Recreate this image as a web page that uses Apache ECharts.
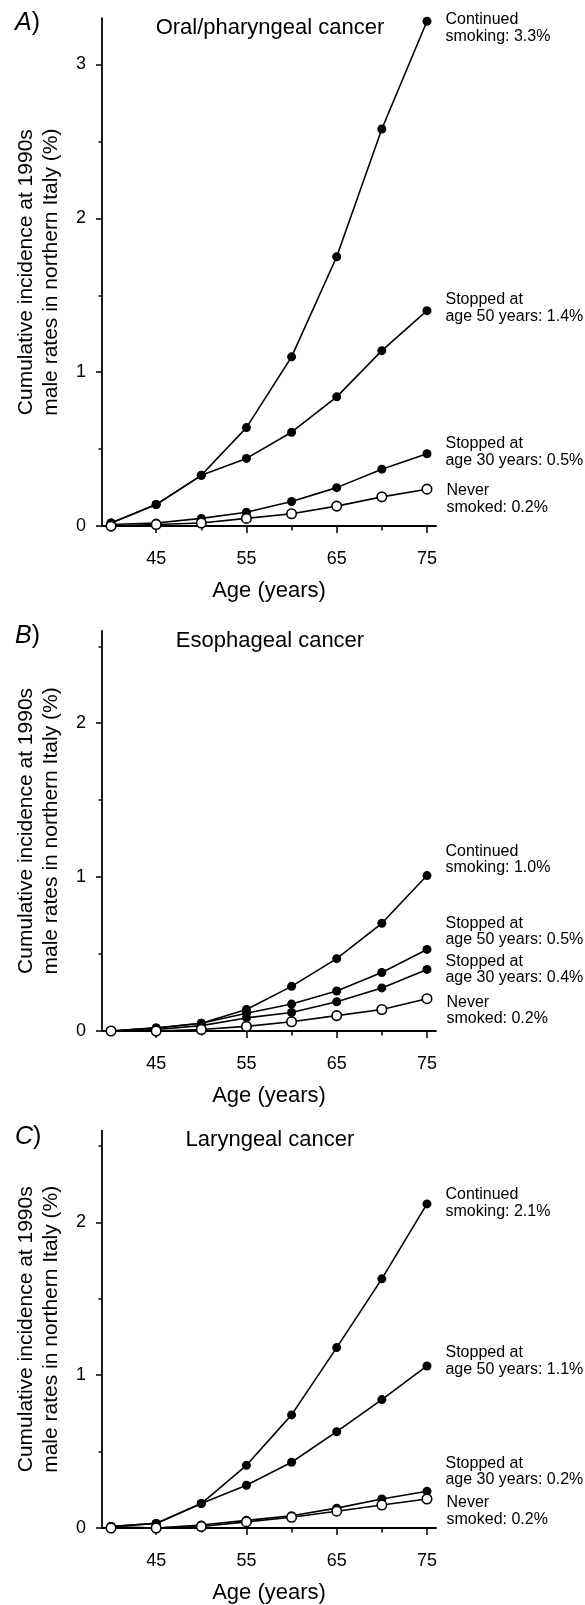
<!DOCTYPE html>
<html>
<head>
<meta charset="utf-8">
<script src="https://cdn.jsdelivr.net/npm/echarts@6/dist/echarts.min.js"></script>
<style>
html,body{margin:0;padding:0;background:#fff;}
#chart{width:585px;height:1605px;}
</style>
</head>
<body>
<div id="chart"></div>
<script>
// ---- data ----
const ages = [40, 45, 50, 55, 60, 65, 70, 75];

const panelLetters = ['A', 'B', 'C'];
const panelTitles = ['Oral/pharyngeal cancer', 'Esophageal cancer', 'Laryngeal cancer'];

const oralContinued = [0.02, 0.14, 0.33, 0.64, 1.10, 1.75, 2.58, 3.28];
const oralStopped50 = [0.02, 0.14, 0.33, 0.44, 0.61, 0.84, 1.14, 1.40];
const oralStopped30 = [0.01, 0.02, 0.05, 0.09, 0.16, 0.25, 0.37, 0.47];
const oralNever     = [0.00, 0.01, 0.02, 0.05, 0.08, 0.13, 0.19, 0.24];

const esoContinued = [0.00, 0.02, 0.05, 0.14, 0.29, 0.47, 0.70, 1.01];
const esoStopped50 = [0.00, 0.02, 0.05, 0.115, 0.175, 0.26, 0.38, 0.53];
const esoStopped30 = [0.00, 0.01, 0.035, 0.085, 0.12, 0.19, 0.28, 0.40];
const esoNever     = [0.00, 0.00, 0.01, 0.03, 0.06, 0.10, 0.14, 0.21];

const larContinued = [0.01, 0.03, 0.16, 0.41, 0.74, 1.18, 1.63, 2.12];
const larStopped50 = [0.01, 0.03, 0.16, 0.28, 0.43, 0.63, 0.84, 1.06];
const larStopped30 = [0.01, 0.00, 0.02, 0.05, 0.08, 0.13, 0.19, 0.24];
const larNever     = [0.00, 0.00, 0.01, 0.04, 0.07, 0.11, 0.15, 0.19];

const oralLabels = ['Continued\nsmoking: 3.3%', 'Stopped at\nage 50 years: 1.4%', 'Stopped at\nage 30 years: 0.5%', 'Never\nsmoked: 0.2%'];
const esoLabels  = ['Continued\nsmoking: 1.0%', 'Stopped at\nage 50 years: 0.5%', 'Stopped at\nage 30 years: 0.4%', 'Never\nsmoked: 0.2%'];
const larLabels  = ['Continued\nsmoking: 2.1%', 'Stopped at\nage 50 years: 1.1%', 'Stopped at\nage 30 years: 0.2%', 'Never\nsmoked: 0.2%'];

const yMaxes = [3.3, 2.6, 2.6];
const yMajorTicks = [[0, 1, 2, 3], [0, 1, 2], [0, 1, 2]];
const yMinorTicks = [[0.5, 1.5, 2.5], [0.5, 1.5, 2.5], [0.5, 1.5, 2.5]];
const xLabelTicks = [45, 55, 65, 75];
const xMinorTicks = [40, 50, 60, 70];
const xTitle = 'Age (years)';
const yTitle = 'Cumulative incidence at 1990s\nmale rates in northern Italy (%)';

// ---- layout / style (not data) ----
const FONT = '"Liberation Sans", Arial, sans-serif';
const unit = 153.9;
const gridBottoms = [526.1, 1031.0, 1530.7];
const gridLeft = 102, gridWidth = 334;
const letterY = [26, 639, 1140];
const titleY = [28, 641, 1139.5];
const labelDy = [[7, -2.5, -1.5, 10], [-16, -18, 0, 12], [-1, -5, -19.5, 12]];

const panels = [
  { series: [oralContinued, oralStopped50, oralStopped30, oralNever], labels: oralLabels },
  { series: [esoContinued, esoStopped50, esoStopped30, esoNever], labels: esoLabels },
  { series: [larContinued, larStopped50, larStopped30, larNever], labels: larLabels }
];

const grid = [], xAxis = [], yAxis = [], series = [], graphic = [];

panels.forEach((p, i) => {
  const h = yMaxes[i] * unit;
  grid.push({ left: gridLeft, width: gridWidth, top: gridBottoms[i] - h, height: h });
  xAxis.push({
    type: 'value', gridIndex: i, min: 39, max: 76, position: 'bottom', offset: 10,
    axisLine: { show: true, lineStyle: { color: '#000', width: 1.8 } },
    axisTick: { show: true, customValues: xLabelTicks, length: 7, lineStyle: { color: '#000', width: 1.5 } },
    axisLabel: { show: true, customValues: xLabelTicks, fontSize: 18, color: '#000', margin: 14, fontFamily: FONT },
    splitLine: { show: false },
    name: xTitle, nameLocation: 'middle', nameGap: 44,
    nameTextStyle: { fontSize: 22, color: '#000', fontFamily: FONT }
  });
  xAxis.push({
    type: 'value', gridIndex: i, min: 39, max: 76, position: 'bottom', offset: 10,
    axisLine: { show: false },
    axisTick: { show: true, customValues: xMinorTicks, length: 4.5, lineStyle: { color: '#000', width: 1.5 } },
    axisLabel: { show: false },
    splitLine: { show: false }
  });
  yAxis.push({
    type: 'value', gridIndex: i, min: 0, max: yMaxes[i], position: 'left', offset: 0,
    axisLine: { show: true, lineStyle: { color: '#000', width: 1.8 } },
    axisTick: { show: true, customValues: yMajorTicks[i], length: 6, lineStyle: { color: '#000', width: 1.5 } },
    axisLabel: { show: true, customValues: yMajorTicks[i], fontSize: 18, color: '#000', margin: 16, fontFamily: FONT },
    splitLine: { show: false },
    name: yTitle, nameLocation: 'middle', nameRotate: 90, nameGap: 38,
    nameTextStyle: { fontSize: 21, lineHeight: 25, color: '#000', fontFamily: FONT, align: 'center' }
  });
  yAxis.push({
    type: 'value', gridIndex: i, min: 0, max: yMaxes[i], position: 'left', offset: 0,
    axisLine: { show: false },
    axisTick: { show: true, customValues: yMinorTicks[i], length: 3.5, lineStyle: { color: '#000', width: 1.5 } },
    axisLabel: { show: false },
    splitLine: { show: false }
  });

  p.series.forEach((vals, k) => {
    const isNever = k === 3;
    const data = vals.map((v, j) => {
      const item = { value: [ages[j], v] };
      if (j === vals.length - 1) {
        item.label = {
          show: true, position: 'right', distance: 14,
          offset: [0, labelDy[i][k]],
          formatter: p.labels[k],
          fontSize: 16, lineHeight: 16.5, color: '#000', fontFamily: FONT,
          align: 'left'
        };
      }
      return item;
    });
    series.push({
      type: 'line', xAxisIndex: 2 * i, yAxisIndex: 2 * i,
      data: data,
      symbol: 'circle', symbolSize: isNever ? 9.5 : 9,
      showAllSymbol: true,
      lineStyle: { color: '#000', width: 1.6 },
      itemStyle: isNever ? { color: '#fff', borderColor: '#000', borderWidth: 1.6 } : { color: '#000', borderColor: '#000', borderWidth: 0 },
      label: { show: false },
      z: isNever ? 5 : 3,
      emphasis: { disabled: true },
      silent: true
    });
  });

  graphic.push({
    type: 'text', left: 15, top: letterY[i] - 15,
    style: {
      text: '{i|' + panelLetters[i] + '})',
      rich: { i: { fontStyle: 'italic', fontSize: 25, fontFamily: FONT, fill: '#000' } },
      fontSize: 25, fontFamily: FONT, fill: '#000'
    }
  });
  graphic.push({
    type: 'text', x: 270, y: titleY[i],
    style: {
      text: panelTitles[i], fontSize: 22, fontFamily: FONT, fill: '#000',
      align: 'center', verticalAlign: 'middle', textAlign: 'center', textVerticalAlign: 'middle'
    }
  });
});

const chart = echarts.init(document.getElementById('chart'), null, { renderer: 'canvas' });
chart.setOption({
  animation: false,
  backgroundColor: '#fff',
  textStyle: { fontFamily: FONT, color: '#000' },
  grid: grid, xAxis: xAxis, yAxis: yAxis, series: series, graphic: graphic
});
</script>
</body>
</html>
